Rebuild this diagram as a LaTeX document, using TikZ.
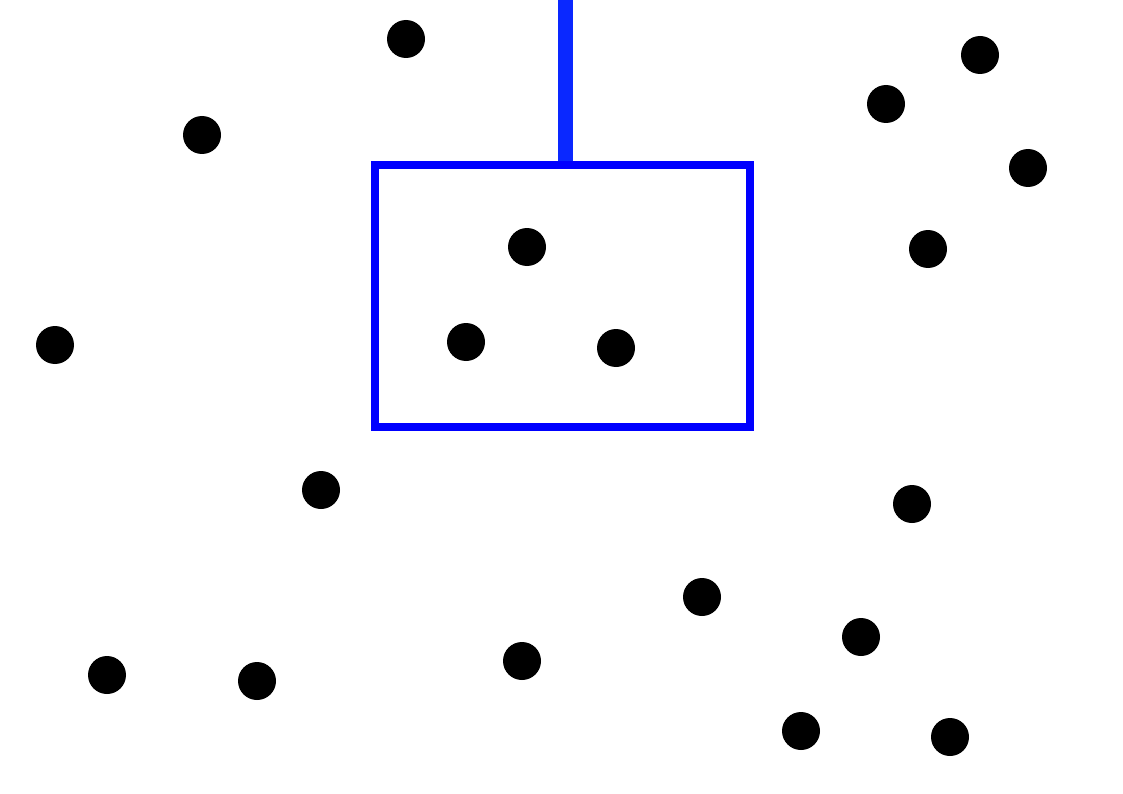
\documentclass[tikz,border=0pt]{standalone}
\usepackage{xcolor}
\usepackage{tikz}
\definecolor{boxblue}{RGB}{0,0,255}
\definecolor{wireblue}{RGB}{10,40,255}

\begin{document}
\begin{tikzpicture}[x=0.02cm, y=-0.02cm,
    particle/.style={fill=black},
    frame/.style={draw=boxblue, line width=0.16cm},
    wire/.style={draw=wireblue, line width=0.31cm}]

\useasboundingbox (0,0) rectangle (1123,794);

\draw[wire] (565.5,0) -- (565.5,165);
\draw[frame] (375,165) rectangle (750,427);

\foreach \x/\y in {406/39, 202/135, 980/55, 886/104, 1028/168, 928/249,
    527/247, 466/342, 616/348, 55/345, 321/490, 912/504, 702/597,
    861/637, 107/675, 257/681, 522/661, 801/731, 950/737}
  \fill[particle] (\x,\y) circle (19);
\end{tikzpicture}
\end{document}
